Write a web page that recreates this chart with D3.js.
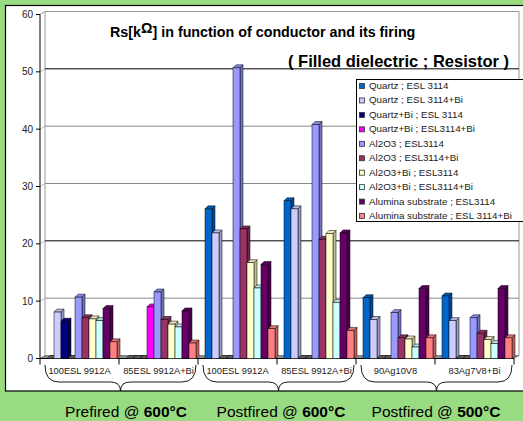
<!DOCTYPE html>
<html lang="en">
<head>
<meta charset="UTF-8">
<title>Rs in function of conductor and its firing</title>
<script src="https://cdn.jsdelivr.net/npm/d3@7"></script>
<style>
  body { margin: 0; background: #99db80; }
  svg { display: block; font-family: Arial, "Liberation Sans", sans-serif; }
</style>
</head>
<body>
<script>
// ---- data ----
const categories = ["100ESL 9912A", "85ESL 9912A+Bi", "100ESL 9912A", "85ESL 9912A+Bi", "90Ag10V8", "83Ag7V8+Bi"];
const seriesNames = [
  "Quartz ; ESL 3114", "Quartz ; ESL 3114+Bi", "Quartz+Bi ; ESL 3114", "Quartz+Bi ; ESL3114+Bi",
  "Al2O3 ; ESL3114", "Al2O3 ; ESL3114+Bi", "Al2O3+Bi ; ESL3114", "Al2O3+Bi ; ESL3114+Bi",
  "Alumina substrate ; ESL3114", "Alumina substrate ; ESL 3114+Bi"
];
const seriesColors = ["#0066cc", "#ccccff", "#000080", "#ff00ff", "#9999ff",
                      "#993366", "#ffffcc", "#ccffff", "#660066", "#ff8080"];
const quartzEsl      = [0,   0,   26.1, 27.5, 10.6, 10.9];
const quartzEslBi    = [8.1, 0,   21.9, 26.1, 6.8,  6.6];
const quartzBiEsl    = [6.5, 0,   0,    0,    0,    0];
const quartzBiEslBi  = [0,   9.0, 0,    0,    0,    0];
const al2o3Esl       = [10.7, 11.6, 50.7, 40.8, 8.0, 7.1];
const al2o3EslBi     = [7.1, 6.8, 22.6, 20.8, 3.6, 4.4];
const al2o3BiEsl     = [6.9, 6.0, 16.7, 21.8, 3.4, 3.3];
const al2o3BiEslBi   = [6.6, 5.5, 12.3, 9.8,  2.0, 2.6];
const aluminaEsl     = [8.7, 8.3, 16.4, 21.9, 12.2, 12.2];
const aluminaEslBi   = [2.9, 2.7, 5.2,  4.9,  3.6, 3.6];
const seriesValues = [quartzEsl, quartzEslBi, quartzBiEsl, quartzBiEslBi, al2o3Esl,
                      al2o3EslBi, al2o3BiEsl, al2o3BiEslBi, aluminaEsl, aluminaEslBi];
const yTicks = [0, 10, 20, 30, 40, 50, 60];
const firingGroups = [
  {pre: "Prefired @ ", bold: "600°C", from: 0, to: 1, cx: 126},
  {pre: "Postfired @ ", bold: "600°C", from: 2, to: 3, cx: 281},
  {pre: "Postfired @ ", bold: "500°C", from: 4, to: 5, cx: 436}
];

const width = 523, height = 421;
const x0 = 40, x1 = 514, yBase = 358.5, yTop = 14.5;
const dx = 5, dy = -3;     // back wall offset
const bdx = 3, bdy = -3;   // bar depth

const svg = d3.select("body").append("svg").attr("width", width).attr("height", height);

// white chart area
svg.append("rect").attr("x", 5.5).attr("y", 5.5).attr("width", 530).attr("height", 385.5)
   .attr("fill", "#fff").attr("stroke", "#000").attr("stroke-width", 1.2);

const y = d3.scaleLinear().domain([0, 60]).range([yBase, yTop]);
const xGroup = d3.scaleBand().domain(d3.range(categories.length)).range([x0, x1]);
const xSeries = d3.scaleBand().domain(d3.range(seriesNames.length)).range([7, 77]);

// back wall + gridlines
svg.append("path")
   .attr("d", `M${x0 + dx},${yBase + dy}V${yTop + dy}H${x1 + dx}V${yBase + dy}`)
   .attr("fill", "none").attr("stroke", "#999");
svg.selectAll(".grid").data(yTicks.filter(t => t > 0 && t < 60)).join("line")
   .attr("x1", x0 + dx).attr("x2", x1 + dx)
   .attr("y1", d => y(d) + dy).attr("y2", d => y(d) + dy)
   .attr("stroke", d => (d === 50 || d === 20) ? "#000" : "#888");
// side wall diagonals
svg.selectAll(".diag").data(yTicks).join("line")
   .attr("x1", x0).attr("y1", d => y(d)).attr("x2", x0 + dx).attr("y2", d => y(d) + dy)
   .attr("stroke", d => d === 60 ? "#999" : "#bbb");

// floor
svg.append("path")
   .attr("d", `M${x0},${yBase}L${x0 + dx},${yBase + dy}H${x1 + dx}L${x1},${yBase}Z`)
   .attr("fill", "#8a8a8a").attr("stroke", "#555").attr("stroke-width", 0.6);

// y axis
svg.append("line").attr("x1", x0).attr("x2", x0).attr("y1", yTop).attr("y2", yBase)
   .attr("stroke", "#000");
const yt = svg.selectAll(".yt").data(yTicks).join("g")
   .attr("transform", d => `translate(0,${y(d)})`);
yt.append("line").attr("x1", x0 - 4).attr("x2", x0).attr("stroke", "#000");
yt.append("text").attr("x", x0 - 7).attr("dy", "0.35em").attr("text-anchor", "end")
  .attr("font-size", 10).attr("fill", "#222").text(d => d);

// x axis line + category ticks
svg.append("line").attr("x1", x0).attr("x2", x1).attr("y1", yBase).attr("y2", yBase)
   .attr("stroke", "#000");
svg.selectAll(".xt").data(d3.range(categories.length + 1)).join("line")
   .attr("x1", d => x0 + d * xGroup.bandwidth()).attr("x2", d => x0 + d * xGroup.bandwidth())
   .attr("y1", yBase).attr("y2", yBase + 6).attr("stroke", "#000");
svg.selectAll(".xl").data(categories).join("text")
   .attr("x", (d, i) => xGroup(i) + xGroup.bandwidth() / 2).attr("y", yBase + 15)
   .attr("text-anchor", "middle").attr("font-size", 9.3).attr("fill", "#222").text(d => d);

// bars (3D)
const bars = [];
categories.forEach((c, gi) => {
  seriesValues.forEach((vals, si) => bars.push({gi, si, v: vals[gi]}));
});
const bw = xSeries.bandwidth();
const bar = svg.append("g").selectAll("g").data(bars).join("g");
bar.each(function (d) {
  const g = d3.select(this);
  const bx = xGroup(d.gi) + xSeries(d.si), by = y(d.v), h = yBase - by;
  const col = d.v === 0 ? d3.color("#666") : d3.color(seriesColors[d.si]);
  // side
  g.append("path")
   .attr("d", `M${bx + bw},${yBase}V${by}l${bdx},${bdy}V${yBase + bdy}Z`)
   .attr("fill", col.darker(0.8)).attr("stroke", "#000").attr("stroke-width", 0.5);
  // top
  g.append("path")
   .attr("d", `M${bx},${by}l${bdx},${bdy}h${bw}l${-bdx},${-bdy}Z`)
   .attr("fill", col.darker(0.3)).attr("stroke", "#000").attr("stroke-width", 0.5);
  // front
  g.append("rect").attr("x", bx).attr("y", by).attr("width", bw).attr("height", h)
   .attr("fill", col).attr("stroke", "#000").attr("stroke-width", 0.5);
});

// title
const title = svg.append("text").attr("x", 110).attr("y", 37)
   .attr("font-size", 14.3).attr("font-weight", "bold").attr("fill", "#000");
title.append("tspan").text("Rs[k");
title.append("tspan").attr("dy", -4).text("Ω");
title.append("tspan").attr("dy", 4).text("] in function of conductor and its firing");
svg.append("text").attr("x", 509).attr("y", 67).attr("text-anchor", "end")
   .attr("font-size", 16.5).attr("font-weight", "bold").text("( Filled dielectric ; Resistor )");

// legend
const lg = svg.append("g");
lg.append("rect").attr("x", 356.5).attr("y", 79.5).attr("width", 170).attr("height", 142)
  .attr("fill", "#fff").attr("stroke", "#000");
const li = lg.selectAll("g").data(seriesNames).join("g")
  .attr("transform", (d, i) => `translate(0,${85.5 + i * 14.45})`);
li.append("rect").attr("x", 359.5).attr("y", -2).attr("width", 5).attr("height", 5)
  .attr("fill", (d, i) => seriesColors[i]).attr("stroke", "#333").attr("stroke-width", 0.8);
li.append("text").attr("x", 369).attr("dy", "0.35em").attr("font-size", 9.8)
  .attr("fill", "#222").text(d => d);

// braces + firing labels
function brace(xa, xb, xm) {
  const yt0 = 365, yh = 382, yb = 391;
  return `M${xa},${yt0}Q${xa},${yh} ${xa + 14},${yh}H${xm - 10}Q${xm},${yh} ${xm},${yb}` +
         `Q${xm},${yh} ${xm + 10},${yh}H${xb - 14}Q${xb},${yh} ${xb},${yt0}`;
}
firingGroups.forEach(f => {
  const xa = xGroup(f.from) + 5, xb = xGroup(f.to) + xGroup.bandwidth() - 2;
  svg.append("path").attr("d", brace(xa, xb, (xa + xb) / 2))
     .attr("fill", "none").attr("stroke", "#000").attr("stroke-width", 0.9);
  const t = svg.append("text").attr("x", f.cx).attr("y", 417).attr("text-anchor", "middle")
     .attr("font-size", 15.5).attr("fill", "#000");
  t.append("tspan").text(f.pre);
  t.append("tspan").attr("font-weight", "bold").text(f.bold);
});
</script>
</body>
</html>
